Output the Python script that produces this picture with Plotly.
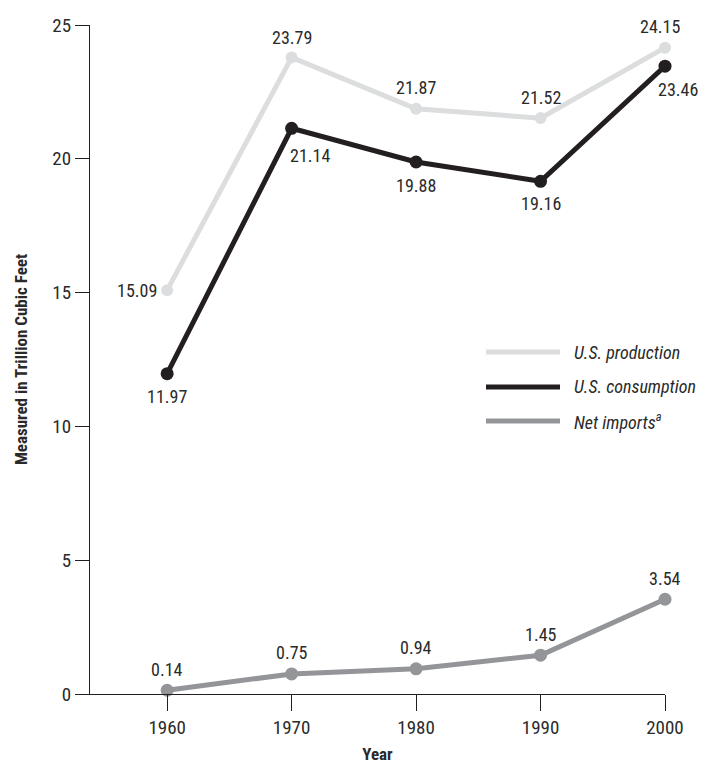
import plotly.graph_objects as go

years = [1960, 1970, 1980, 1990, 2000]
production = [15.09, 23.79, 21.87, 21.52, 24.15]
consumption = [11.97, 21.14, 19.88, 19.16, 23.46]
net_imports = [0.14, 0.75, 0.94, 1.45, 3.54]
y_ticks = [0, 5, 10, 15, 20, 25]

FONT = "Liberation Sans Narrow, Roboto Condensed, DejaVu Sans Condensed, Arial Narrow, sans-serif"
C_PROD = "#dcddde"
C_CONS = "#231f20"
C_NET = "#939598"
TXT = "#2a2a2a"

# page body adds an 8px offset; margins compensate
ML, MR, MT, MB = 82, 49, 17, 81
W, H = 706, 767
PW = W - ML - MR
PH = H - MT - MB

fig = go.Figure()
series = [
    ("U.S. production", production, C_PROD, 12),
    ("U.S. consumption", consumption, C_CONS, 13),
    ("Net imports<sup>a</sup>", net_imports, C_NET, 13),
]
for name, vals, col, ms in series:
    fig.add_trace(go.Scatter(
        x=years, y=vals, mode="lines+markers", name=name,
        line=dict(color=col, width=5), marker=dict(color=col, size=ms),
        showlegend=False, cliponaxis=False,
    ))

# data label offsets (style only)
prod_off = [(-8, 0, "right"), (0, 20, "center"), (0, 21, "center"), (0, 21, "center"), (-5, 21, "center")]
cons_off = [(0, -23, "center"), (18, -27, "center"), (0, -23, "center"), (0, -22, "center"), (13, -23, "center")]
net_off = [(0, 21, "center")] * 5

annotations = []
for vals, offs in [(production, prod_off), (consumption, cons_off), (net_imports, net_off)]:
    for x, v, (dx, dy, xa) in zip(years, vals, offs):
        annotations.append(dict(
            x=x, y=v, xref="x", yref="y", text=f"{v:.2f}", showarrow=False,
            xshift=dx, yshift=dy, xanchor=xa, yanchor="middle",
            font=dict(family=FONT, size=18, color=TXT),
        ))

# manual legend (positions in window pixels, minus 8px page offset)
leg_y = [352, 387, 421]
for (name, vals, col, ms), py in zip(series, leg_y):
    yp = (H - MB - (py - 8)) / PH
    fig.add_shape(type="line", xref="paper", yref="paper",
                  x0=(486 - 8 - ML) / PW, x1=(560 - 8 - ML) / PW, y0=yp, y1=yp,
                  line=dict(color=col, width=5))
    annotations.append(dict(
        x=(572 - 8 - ML) / PW, y=yp, xref="paper", yref="paper", text=f"<i>{name}</i>",
        showarrow=False, xanchor="left", yanchor="middle",
        font=dict(family=FONT, size=18, color=TXT),
    ))

fig.update_layout(
    width=W, height=H,
    margin=dict(l=ML, r=MR, t=MT, b=MB, autoexpand=False),
    paper_bgcolor="white", plot_bgcolor="white",
    font=dict(family=FONT, size=18, color=TXT),
    annotations=annotations,
    xaxis=dict(
        range=[1953.8, 2000], tickvals=years, ticktext=[str(y) for y in years],
        automargin=False,
        showgrid=False, zeroline=False, showline=True, linecolor="#231f20", linewidth=1.3,
        ticks="outside", ticklen=16, tickwidth=1.3, tickcolor="#231f20",
        tickfont=dict(family=FONT, size=19),
        title=dict(text="<b>Year</b>", font=dict(family=FONT, size=17), standoff=10),
    ),
    yaxis=dict(
        range=[0, 25], tickvals=y_ticks, automargin=False,
        showgrid=False, zeroline=False, showline=True, linecolor="#231f20", linewidth=1.3,
        ticks="outside", ticklen=14, tickwidth=1.3, tickcolor="#231f20",
        tickfont=dict(family=FONT, size=19),
        title=dict(text="<b>Measured in Trillion Cubic Feet</b>", font=dict(family=FONT, size=17), standoff=20),
    ),
)

fig.write_html("out.html")
